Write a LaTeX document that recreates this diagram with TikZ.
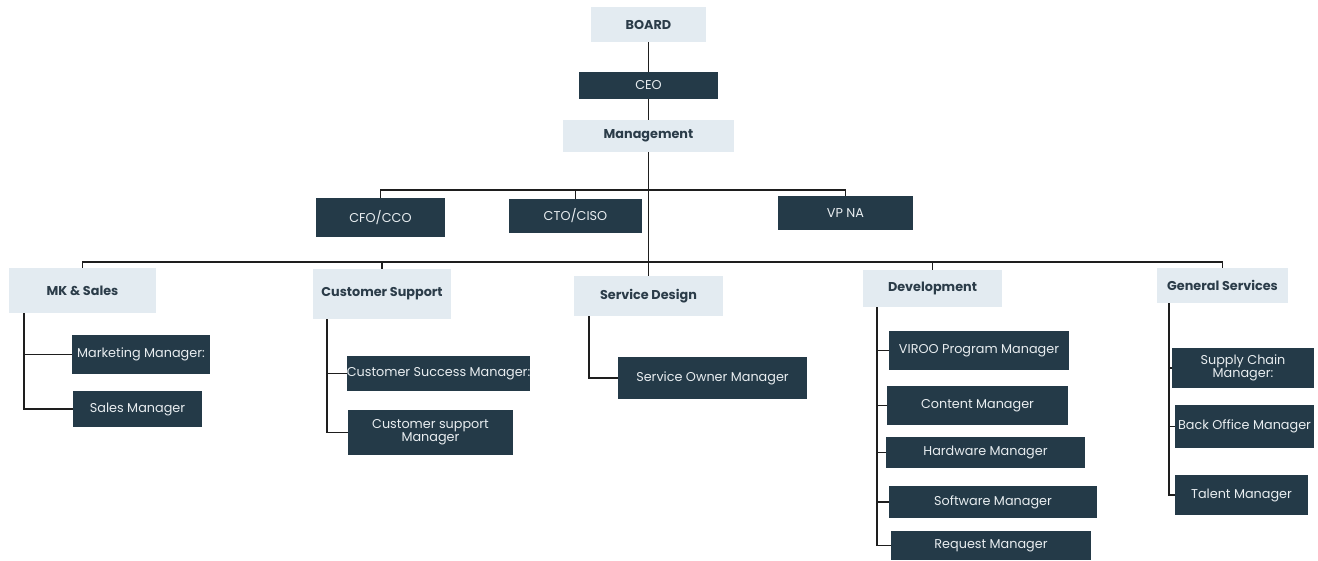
\documentclass[tikz,border=0pt]{standalone}
\usepackage{fontspec}
\setmainfont{Poppins}
\definecolor{darkbox}{HTML}{243A48}
\definecolor{lightbox}{HTML}{E3EBF1}
\definecolor{lighttext}{HTML}{2B3C49}
\definecolor{darktext}{HTML}{E8EDF0}
\definecolor{conn}{HTML}{1E1E1E}
\tikzset{
  x=1pt, y=-1pt,
  lightnode/.style={rectangle, fill=lightbox, text=lighttext, inner sep=0pt, align=center, font=\fontsize{12.8}{13.5}\selectfont\bfseries},
  darknode/.style={rectangle, fill=darkbox, text=darktext, inner sep=0pt, align=center, font=\fontsize{12.8}{13}\selectfont},
  wire/.style={draw=conn, line width=1.5pt}
}
\newcommand{\bx}[6]{\node[#1, minimum width=#4pt, minimum height=#5pt] (#2) at #3 {#6};}
\begin{document}
\begin{tikzpicture}
\useasboundingbox (0,0) rectangle (1318,561);
% top
\bx{lightnode}{board}{(648.5,24.5)}{115}{35}{BOARD}
\bx{darknode}{ceo}{(648.5,85.5)}{139}{27}{CEO}
\bx{lightnode}{mgmt}{(648.5,136)}{171}{32}{Management}
% executives
\bx{darknode}{cfo}{(380.5,217.5)}{129}{39}{CFO/CCO}
\bx{darknode}{cto}{(575.5,216)}{133}{34}{CTO/CISO}
\bx{darknode}{vpna}{(845.5,213)}{135}{34}{VP NA}
% departments
\bx{lightnode}{mks}{(82.5,290.5)}{147}{45}{MK \& Sales}
\bx{lightnode}{cs}{(382,294)}{138}{50}{Customer Support}
\bx{lightnode}{sd}{(648.5,296)}{149}{40}{Service Design}
\bx{lightnode}{dev}{(932.5,288.5)}{139}{37}{Development}
\bx{lightnode}{gs}{(1222.5,285.5)}{131}{35}{General Services}
% managers
\bx{darknode}{mkt}{(141,354.5)}{138}{39}{Marketing Manager:}
\bx{darknode}{sales}{(137.5,409)}{129}{36}{Sales Manager}
\bx{darknode}{csm}{(438.5,373.5)}{183}{35}{Customer Success Manager:}
\bx{darknode}{csup}{(430.5,432.5)}{165}{45}{Customer support\\Manager}
\bx{darknode}{som}{(712.5,378)}{189}{42}{Service Owner Manager}
\bx{darknode}{viroo}{(979,350.5)}{180}{39}{VIROO Program Manager}
\bx{darknode}{content}{(977.5,405.5)}{181}{39}{Content Manager}
\bx{darknode}{hw}{(985.5,452.5)}{199}{31}{Hardware Manager}
\bx{darknode}{sw}{(993,502)}{208}{32}{Software Manager}
\bx{darknode}{req}{(991,545.5)}{200}{29}{Request Manager}
\bx{darknode}{supply}{(1243,368)}{142}{40}{Supply Chain\\Manager:}
\bx{darknode}{back}{(1244.5,426.5)}{139}{43}{Back Office Manager}
\bx{darknode}{talent}{(1241.5,495)}{133}{40}{Talent Manager}
% connectors top
\draw[wire] (board) -- (ceo);
\draw[wire] (ceo) -- (mgmt);
\draw[wire] (mgmt.south) -- (sd.north);
\coordinate (busone) at (648.5,190);
\coordinate (bustwo) at (648.5,262);
\draw[wire] (cfo.north) |- (busone) -| (vpna.north);
\draw[wire] (cto.north) |- (busone);
\draw[wire] (mks.north) |- (bustwo) -| (gs.north);
\draw[wire] (cs.north) |- (bustwo);
\draw[wire] (dev.north) |- (bustwo);
% department branches
\draw[wire] ([xshift=-58.5pt]mks.south) |- (mkt.west);
\draw[wire] ([xshift=-58.5pt]mks.south) |- (sales.west);
\draw[wire] ([xshift=-55pt]cs.south) |- (csm.west);
\draw[wire] ([xshift=-55pt]cs.south) |- (csup.west);
\draw[wire] ([xshift=-59.5pt]sd.south) |- (som.west);
\draw[wire] ([xshift=-55.5pt]dev.south) |- (viroo.west);
\draw[wire] ([xshift=-55.5pt]dev.south) |- (content.west);
\draw[wire] ([xshift=-55.5pt]dev.south) |- (hw.west);
\draw[wire] ([xshift=-55.5pt]dev.south) |- (sw.west);
\draw[wire] ([xshift=-55.5pt]dev.south) |- (req.west);
\draw[wire] ([xshift=-53.5pt]gs.south) |- (supply.west);
\draw[wire] ([xshift=-53.5pt]gs.south) |- (back.west);
\draw[wire] ([xshift=-53.5pt]gs.south) |- (talent.west);
\end{tikzpicture}
\end{document}
